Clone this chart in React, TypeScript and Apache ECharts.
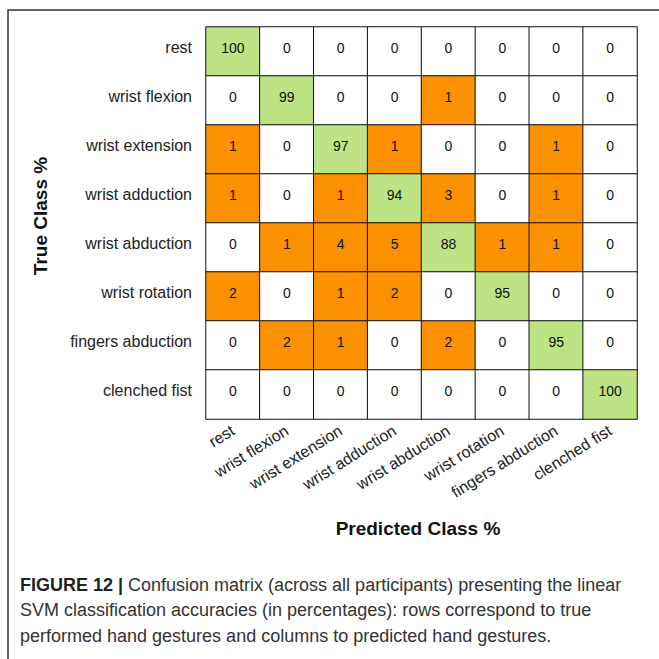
import React, { useEffect, useRef } from "react";
import * as echarts from "echarts";

const classes = [
  "rest",
  "wrist flexion",
  "wrist extension",
  "wrist adduction",
  "wrist abduction",
  "wrist rotation",
  "fingers abduction",
  "clenched fist",
];

// rows = true class, columns = predicted class
const matrix: number[][] = [
  [100, 0, 0, 0, 0, 0, 0, 0],
  [0, 99, 0, 0, 1, 0, 0, 0],
  [1, 0, 97, 1, 0, 0, 1, 0],
  [1, 0, 1, 94, 3, 0, 1, 0],
  [0, 1, 4, 5, 88, 1, 1, 0],
  [2, 0, 1, 2, 0, 95, 0, 0],
  [0, 2, 1, 0, 2, 0, 95, 0],
  [0, 0, 0, 0, 0, 0, 0, 100],
];

const xTitle = "Predicted Class %";
const yTitle = "True Class %";
const captionBold = "FIGURE 12 |";
const captionLines = [
  " Confusion matrix (across all participants) presenting the linear",
  "SVM classification accuracies (in percentages): rows correspond to true",
  "performed hand gestures and columns to predicted hand gestures.",
];

const GREEN = "#bde385";
const ORANGE = "#fb9000";

export default function App() {
  const ref = useRef<HTMLDivElement>(null);
  useEffect(() => {
    if (!ref.current) return;
    const chart = echarts.init(ref.current, null, { renderer: "svg" });
    const data: any[] = [];
    matrix.forEach((row, r) => {
      row.forEach((v, c) => {
        const cls = r === c ? 1 : v > 0 ? 2 : 0;
        data.push([c, r, v, cls]);
      });
    });
    const font = "'Liberation Sans', Arial, Helvetica, sans-serif";
    chart.setOption({
      animation: false,
      backgroundColor: "#ffffff",
      textStyle: { fontFamily: font },
      grid: { left: 206, top: 27, width: 431, height: 392 },
      visualMap: {
        show: false,
        type: "piecewise",
        dimension: 3,
        pieces: [
          { value: 0, color: "#ffffff" },
          { value: 1, color: GREEN },
          { value: 2, color: ORANGE },
        ],
      },
      xAxis: {
        type: "category",
        data: classes,
        axisLine: { show: false },
        axisTick: { show: false },
        splitLine: { show: false },
        axisLabel: {
          rotate: 32,
          margin: 10,
          fontSize: 16,
          color: "#222",
          fontFamily: font,
          interval: 0,
        },
      },
      yAxis: {
        type: "category",
        data: classes,
        inverse: true,
        axisLine: { show: false },
        axisTick: { show: false },
        splitLine: { show: false },
        axisLabel: {
          margin: 14,
          color: "#222",
          fontFamily: font,
          interval: 0,
          formatter: (v: string) => `{a|${v}}`,
          rich: {
            a: {
              fontSize: 16,
              color: "#222",
              fontFamily: font,
              padding: [0, 0, 8, 0],
            },
          },
        },
      },
      series: [
        {
          type: "heatmap",
          data,
          itemStyle: { borderColor: "#111", borderWidth: 1 },
          label: {
            show: true,
            fontSize: 14,
            color: "#111",
            fontFamily: font,
            offset: [0, -4],
            formatter: (p: any) => String(p.value[2]),
          },
          emphasis: { disabled: true },
        },
      ],
      graphic: [
        {
          type: "polyline",
          shape: { points: [[8, 659], [8, 10], [659, 10]] },
          style: { stroke: "#333", lineWidth: 1.5, fill: null },
          silent: true,
        },
        {
          type: "text",
          x: 418,
          y: 528,
          style: {
            text: xTitle,
            font: `bold 19px ${font}`,
            fill: "#111",
            align: "center",
            verticalAlign: "middle",
          },
        },
        {
          type: "text",
          x: 40,
          y: 216,
          rotation: Math.PI / 2,
          style: {
            text: yTitle,
            font: `bold 19px ${font}`,
            fill: "#111",
            align: "center",
            verticalAlign: "middle",
          },
        },
        {
          type: "text",
          x: 20,
          y: 572,
          style: {
            text: `{b|${captionBold}}{n|${captionLines[0]}}\n{n|${captionLines[1]}}\n{n|${captionLines[2]}}`,
            verticalAlign: "top",
            lineHeight: 25.5,
            rich: {
              b: { font: `bold 18px ${font}`, fill: "#222", lineHeight: 25.5 },
              n: { font: `18px ${font}`, fill: "#333", lineHeight: 25.5 },
            },
          },
        },
      ],
    });
    return () => chart.dispose();
  }, []);
  return (
    <div
      ref={ref}
      style={{ position: "fixed", left: 0, top: 0, width: 659, height: 659 }}
    />
  );
}
